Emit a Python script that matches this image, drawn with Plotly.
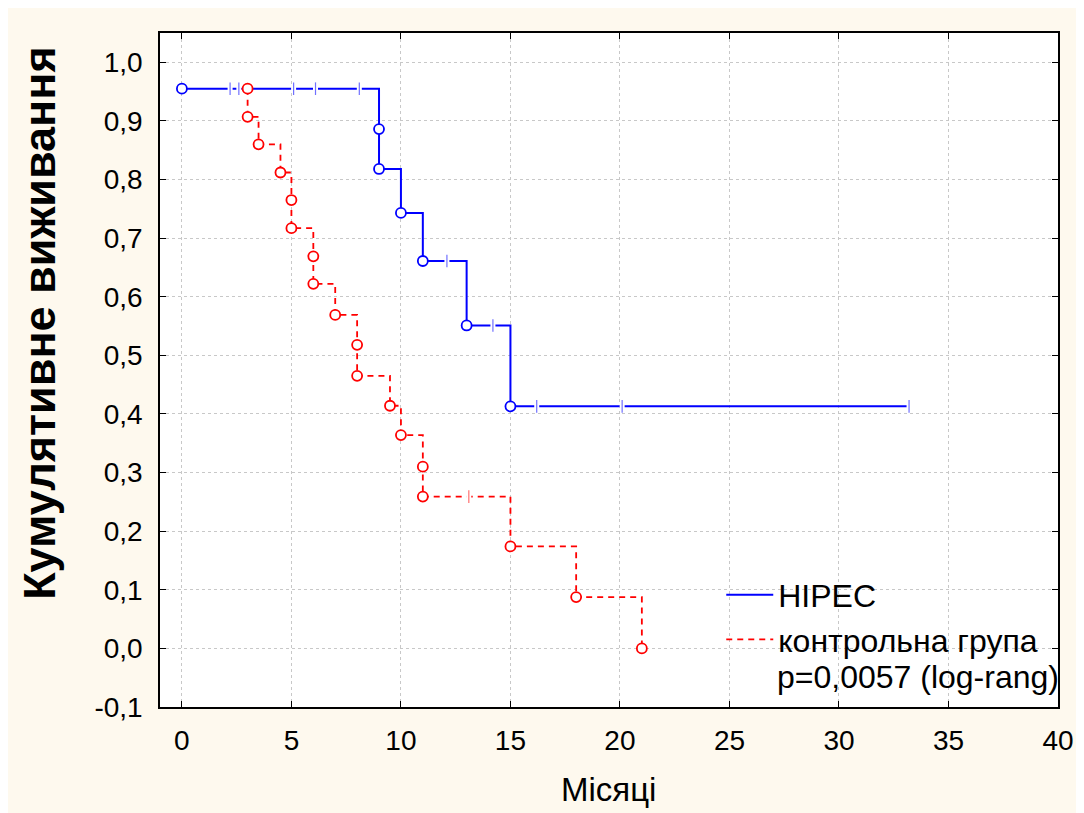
import plotly.graph_objects as go

# ---- data ----
hipec_t = [0, 9, 9, 10, 11, 13, 15, 33.2]
hipec_s = [0.955, 0.886, 0.818, 0.743, 0.661, 0.551, 0.413, 0.413]
hipec_event_t = [0, 9, 9, 10, 11, 13, 15]
hipec_event_s = [0.955, 0.886, 0.818, 0.743, 0.661, 0.551, 0.413]
hipec_cens_t = [2.2, 2.6, 5.1, 6.1, 8.1, 12.1, 14.2, 16.2, 20.1, 33.2]
hipec_cens_s = [0.955, 0.955, 0.955, 0.955, 0.955, 0.661, 0.551, 0.413, 0.413, 0.413]

ctrl_t = [3, 3, 3.5, 4.5, 5, 5, 6, 6, 7, 8, 8, 9.5, 10, 11, 11, 15, 18, 21]
ctrl_s = [0.955, 0.907, 0.860, 0.812, 0.765, 0.717, 0.669, 0.622, 0.569,
          0.518, 0.465, 0.414, 0.364, 0.310, 0.259, 0.174, 0.0875, 0.0]
ctrl_cens_t = [13.1]
ctrl_cens_s = [0.259]

x_ticks = [0, 5, 10, 15, 20, 25, 30, 35, 40]
y_ticks = [-0.1, 0.0, 0.1, 0.2, 0.3, 0.4, 0.5, 0.6, 0.7, 0.8, 0.9, 1.0]
y_ticktext = ["-0,1", "0,0", "0,1", "0,2", "0,3", "0,4", "0,5", "0,6", "0,7", "0,8", "0,9", "1,0"]

BLUE = "#0000FF"
RED = "#FF0000"
FONT = "Liberation Sans, Arial, sans-serif"

fig = go.Figure()

# HIPEC step line
fig.add_trace(go.Scatter(x=hipec_t, y=hipec_s, mode="lines", line_shape="hv",
                         line=dict(color=BLUE, width=2), name="HIPEC"))
# HIPEC censor marks
fig.add_trace(go.Scatter(x=hipec_cens_t, y=hipec_cens_s, mode="markers",
                         marker=dict(symbol="square", size=5, color="white",
                                     line=dict(width=0)),
                         showlegend=False, hoverinfo="skip"))
fig.add_trace(go.Scatter(x=hipec_cens_t, y=hipec_cens_s, mode="markers",
                         marker=dict(symbol="line-ns", size=9,
                                     line=dict(color="#7070FF", width=1.2)),
                         showlegend=False, hoverinfo="skip"))
# HIPEC event circles
fig.add_trace(go.Scatter(x=hipec_event_t, y=hipec_event_s, mode="markers",
                         marker=dict(symbol="circle", size=10, color="white",
                                     line=dict(color=BLUE, width=1.8)),
                         showlegend=False, hoverinfo="skip"))

# Control step line
fig.add_trace(go.Scatter(x=ctrl_t, y=ctrl_s, mode="lines", line_shape="hv",
                         line=dict(color=RED, width=1.8, dash="6px,5px"),
                         name="контрольна група"))
fig.add_trace(go.Scatter(x=ctrl_cens_t, y=ctrl_cens_s, mode="markers",
                         marker=dict(symbol="square", size=5, color="white",
                                     line=dict(width=0)),
                         showlegend=False, hoverinfo="skip"))
fig.add_trace(go.Scatter(x=ctrl_cens_t, y=ctrl_cens_s, mode="markers",
                         marker=dict(symbol="line-ns", size=9,
                                     line=dict(color="#FF7070", width=1.2)),
                         showlegend=False, hoverinfo="skip"))
fig.add_trace(go.Scatter(x=ctrl_t, y=ctrl_s, mode="markers",
                         marker=dict(symbol="circle", size=10, color="white",
                                     line=dict(color=RED, width=1.8)),
                         showlegend=False, hoverinfo="skip"))

axis_common = dict(
    showline=True, linecolor="black", linewidth=1.5, mirror="ticks",
    ticks="inside", ticklen=6, tickcolor="black", tickwidth=1.2,
    showgrid=True, gridcolor="#C8C8C8", griddash="dot", gridwidth=1,
    zeroline=False, tickfont=dict(family=FONT, size=28, color="black"),
)

fig.update_xaxes(range=[-1, 40], tickvals=x_ticks, ticklabelstandoff=8, **axis_common)
fig.update_yaxes(range=[-0.1, 1.05], tickvals=y_ticks, ticktext=y_ticktext,
                 ticklabelstandoff=10, **axis_common)

fig.update_layout(
    width=1084, height=813,
    margin=dict(l=152, r=34, t=25, b=114),
    paper_bgcolor="#FEF9EE", plot_bgcolor="white",
    font=dict(family=FONT, color="black"),
    showlegend=True,
    legend=dict(x=0.625, y=0.207, xanchor="left", yanchor="top",
                bgcolor="rgba(0,0,0,0)", font=dict(size=32, family=FONT),
                itemwidth=47, tracegroupgap=0),
    annotations=[
        dict(text="<b>Кумулятивне виживання</b>", xref="paper", yref="paper",
             x=-0.1336, y=0.57, textangle=-90, showarrow=False,
             font=dict(size=45, family=FONT), xanchor="center", yanchor="middle"),
        dict(text="Місяці", xref="paper", yref="paper", x=0.499, y=-0.123,
             showarrow=False, font=dict(size=33, family=FONT),
             xanchor="center", yanchor="middle"),
        dict(text="p=0,0057 (log-rang)", xref="paper", yref="paper",
             x=0.685, y=0.045, xanchor="left", yanchor="middle", showarrow=False,
             font=dict(size=32, family=FONT)),
    ],
)

fig.write_html("out.html")
